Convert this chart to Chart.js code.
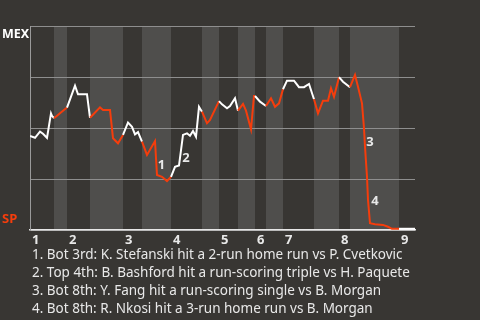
<!DOCTYPE html>
<html>
<head>
<meta charset="utf-8">
<script src="https://cdn.jsdelivr.net/npm/chart.js@4.4.1/dist/chart.umd.min.js"></script>
<style>
  html, body { margin: 0; padding: 0; background: #383633; }
  #wrap { width: 480px; height: 320px; position: relative; }
</style>
</head>
<body>
<div id="wrap"><canvas id="wp"></canvas></div>
<script>
// half-inning start positions along the game (top 1, bot 1, top 2, ... top 9, end)
var halfStarts = [0, 24, 37, 60, 93, 112, 141, 172, 189, 208, 225, 236, 253, 284, 309, 320, 369, 385];
var innings = ['1', '2', '3', '4', '5', '6', '7', '8', '9'];

// MEX win probability (%) at each play
var playX = [0, 5, 10, 13, 17, 21, 22, 24, 36, 37, 45, 48, 57, 60, 70, 73, 80, 83, 88, 93,
    98, 102, 105, 108, 112, 117, 125, 127, 132, 137, 141, 145, 149, 153, 157, 160, 163, 166, 169, 172,
    177, 180, 189, 192, 197, 200, 205, 208, 213, 216, 221, 224, 225, 230, 236, 241, 245, 249, 253, 257,
    264, 269, 274, 279, 284, 288, 293, 298, 301, 304, 309, 313, 320, 325, 328, 332, 334, 335, 337, 338,
    340, 345, 353, 358, 362, 369, 385];
var winProb = [46.1, 45.2, 48.2, 47.2, 45.2, 57.2, 56.0, 54.8, 59.7, 60.0, 70.7, 66.5, 66.5, 55.0, 60.1, 58.8, 58.8, 45.0, 42.5, 46.6,
    52.7, 50.6, 46.9, 48.0, 43.3, 36.8, 43.6, 27.0, 26.1, 24.0, 26.1, 31.0, 31.6, 46.6, 47.4, 46.2, 48.5, 45.7, 60.4, 58.0,
    52.3, 53.9, 63.2, 61.6, 59.7, 60.8, 64.6, 58.5, 61.8, 58.5, 49.4, 65.7, 65.7, 62.9, 60.8, 64.6, 60.4, 62.1, 69.0, 73.2,
    73.2, 70.0, 70.0, 71.6, 64.1, 57.2, 63.4, 63.4, 69.5, 65.3, 74.9, 72.7, 70.0, 76.0, 70.2, 62.1, 49.9, 40.8, 26.1, 14.7,
    3.3, 2.8, 2.5, 1.6, 0.6, 0.6, 0.6];

var keyLabels = ['1', '2', '3', '4'];
var keyX = [131.5, 156, 340, 345];
var keyY = [31.5, 35.3, 42.8, 13.9];
var keyNotes = [
    '1. Bot 3rd: K. Stefanski hit a 2-run home run vs P. Cvetkovic',
    '2. Top 4th: B. Bashford hit a run-scoring triple vs H. Paquete',
    '3. Bot 8th: Y. Fang hit a run-scoring single vs B. Morgan',
    '4. Bot 8th: R. Nkosi hit a 3-run home run vs B. Morgan'
];

var ORANGE = '#f53d0c';
var WHITE = '#ffffff';
var BAND = '#4f4e4c';
var TEXT = '#e8e8e8';

function halfIndex(x) {
    for (var i = halfStarts.length - 2; i >= 0; i--) {
        if (x >= halfStarts[i]) return i;
    }
    return 0;
}

var bandsPlugin = {
    id: 'bands',
    beforeDraw: function (chart) {
        var ctx = chart.ctx, area = chart.chartArea, xs = chart.scales.x;
        ctx.save();
        ctx.fillStyle = BAND;
        for (var i = 1; i < halfStarts.length - 1; i += 2) {
            var x0 = xs.getPixelForValue(halfStarts[i]);
            var x1 = xs.getPixelForValue(halfStarts[i + 1]);
            ctx.fillRect(x0, area.top, x1 - x0, area.bottom - area.top);
        }
        ctx.restore();
    }
};

var textPlugin = {
    id: 'texts',
    afterDraw: function (chart) {
        var ctx = chart.ctx, area = chart.chartArea;
        var xs = chart.scales.x, ys = chart.scales.y;
        ctx.save();
        ctx.textBaseline = 'middle';
        ctx.textAlign = 'left';
        ctx.font = 'bold 12.5px "Noto Sans"';
        ctx.fillStyle = WHITE;
        ctx.fillText('MEX', 2, area.top + 8);
        ctx.fillStyle = ORANGE;
        ctx.font = 'bold 13px "Noto Sans"';
        ctx.fillText('SP', 2, area.bottom - 11);

        ctx.textAlign = 'center';
        ctx.font = 'bold 13px "Noto Sans"';
        ctx.fillStyle = TEXT;
        for (var i = 0; i < keyLabels.length; i++) {
            ctx.fillText(keyLabels[i], xs.getPixelForValue(keyX[i]), ys.getPixelForValue(keyY[i]));
        }

        ctx.textAlign = 'left';
        ctx.textBaseline = 'alphabetic';
        ctx.font = '13.5px "Noto Sans"';
        for (var j = 0; j < keyNotes.length; j++) {
            ctx.fillText(keyNotes[j], 32, 259 + j * 18);
        }
        ctx.restore();
    }
};

new Chart(document.getElementById('wp'), {
    type: 'line',
    data: {
        datasets: [{
            data: playX.map(function (x, i) { return { x: x, y: winProb[i] }; }),
            borderColor: WHITE,
            borderWidth: 2,
            pointRadius: 0,
            tension: 0,
            segment: {
                borderColor: function (ctx) {
                    return halfIndex(ctx.p0.parsed.x) % 2 ? ORANGE : WHITE;
                }
            }
        }]
    },
    options: {
        responsive: true,
        maintainAspectRatio: false,
        animation: false,
        layout: { padding: { left: 30, right: 65, top: 26, bottom: 70 } },
        plugins: { legend: { display: false }, tooltip: { enabled: false } },
        scales: {
            x: {
                type: 'linear',
                min: 0,
                max: 385,
                afterBuildTicks: function (scale) {
                    scale.ticks = halfStarts.filter(function (v, i) { return i % 2 === 0 && i < halfStarts.length - 1; })
                        .map(function (v) { return { value: v }; });
                },
                afterFit: function (scale) { scale.height = 20; },
                grid: { display: false },
                border: { display: true, color: '#e6e6e6', width: 1.5 },
                ticks: {
                    autoSkip: false,
                    maxRotation: 0,
                    align: 'start',
                    labelOffset: 2,
                    padding: -6,
                    color: TEXT,
                    font: { family: 'Noto Sans', size: 13, weight: 'bold' },
                    callback: function (v, i) { return innings[i]; }
                }
            },
            y: {
                min: 0,
                max: 100,
                afterBuildTicks: function (scale) {
                    scale.ticks = [0, 25, 50, 75, 100].map(function (v) { return { value: v }; });
                },
                afterFit: function (scale) { scale.width = 0; },
                grid: { color: '#8e8e8e', lineWidth: 1, drawTicks: false },
                border: { display: true, color: '#9a9a9a', width: 1 },
                ticks: { display: false }
            }
        }
    },
    plugins: [bandsPlugin, textPlugin]
});
</script>
</body>
</html>
